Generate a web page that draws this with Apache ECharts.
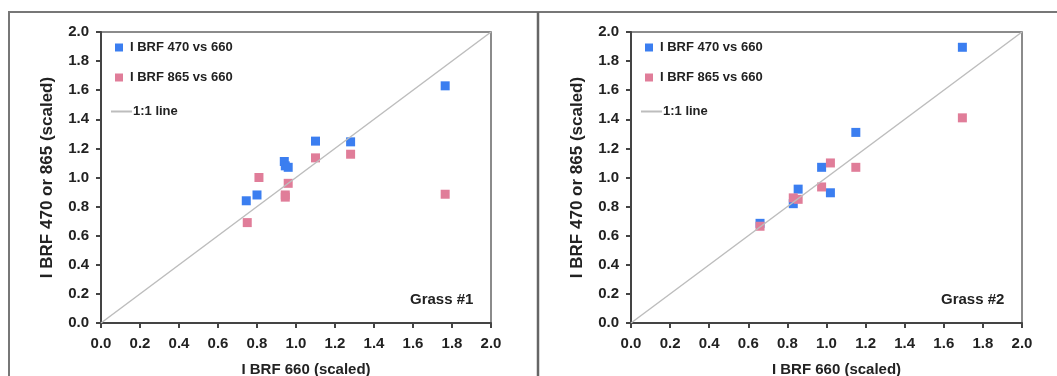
<!DOCTYPE html>
<html>
<head>
<meta charset="utf-8">
<script src="https://cdn.jsdelivr.net/npm/echarts@6/dist/echarts.min.js"></script>
<style>
  html, body { margin: 0; padding: 0; background: #fff; }
  #chart { width: 1057px; height: 376px; }
</style>
</head>
<body>
<div id="chart"></div>
<script>
// Grass #1: [I BRF 660, I BRF 470 or 865]
var grass1Blue = [[0.745, 0.84], [0.80, 0.88], [0.94, 1.11], [0.945, 1.08], [0.96, 1.07], [1.10, 1.25], [1.28, 1.245], [1.765, 1.63]];
var grass1Pink = [[0.75, 0.69], [0.81, 1.00], [0.945, 0.88], [0.945, 0.865], [0.96, 0.96], [1.10, 1.135], [1.28, 1.16], [1.765, 0.885]];
// Grass #2
var grass2Blue = [[0.66, 0.685], [0.83, 0.82], [0.855, 0.92], [0.975, 1.07], [1.02, 0.895], [1.15, 1.31], [1.695, 1.895]];
var grass2Pink = [[0.66, 0.665], [0.83, 0.86], [0.855, 0.85], [0.975, 0.935], [1.02, 1.10], [1.15, 1.07], [1.695, 1.41]];
var oneToOne = [[0, 0], [2, 2]];
var panelNames = ['Grass #1', 'Grass #2'];

var blueName = 'I BRF 470 vs 660';
var pinkName = 'I BRF 865 vs 660';
var lineName = '1:1 line';
var blue = '#3b7ef0';
var pink = '#e07d99';
var fontFam = 'Liberation Sans, Arial, sans-serif';

var chart = echarts.init(document.getElementById('chart'));

var grids = [
  { left: 101, top: 32, width: 390, height: 291 },
  { left: 631, top: 32, width: 391, height: 291 }
];

function valueAxis(i, name, isY) {
  return {
    type: 'value',
    gridIndex: i,
    min: 0,
    max: 2,
    interval: 0.2,
    name: name,
    nameLocation: 'middle',
    nameGap: isY ? 45 : 39,
    nameTextStyle: {
      fontFamily: fontFam, fontWeight: 'bold', fontSize: isY ? 17 : 15, color: '#222',
      padding: isY ? 0 : [0, 0, 0, 20]
    },
    axisLine: { show: true, onZero: false, lineStyle: { color: '#444', width: 2 } },
    axisTick: { show: true, inside: false, length: 5, lineStyle: { color: '#444', width: 2 } },
    axisLabel: {
      margin: isY ? 12 : 13,
      fontFamily: fontFam, fontWeight: 'bold', fontSize: 15, color: '#222',
      formatter: function (v) { return v.toFixed(1); }
    },
    splitLine: { show: false }
  };
}

var series = [];
var legends = [];
var titles = [];
[[grass1Blue, grass1Pink], [grass2Blue, grass2Pink]].forEach(function (pair, i) {
  series.push({
    name: lineName, type: 'line', xAxisIndex: i, yAxisIndex: i,
    data: oneToOne, symbol: 'none', silent: true,
    lineStyle: { color: '#bdbdbd', width: 1.5 }, itemStyle: { color: '#bdbdbd' }
  });
  series.push({
    name: blueName, type: 'scatter', xAxisIndex: i, yAxisIndex: i,
    data: pair[0], symbol: 'rect', symbolSize: 9, itemStyle: { color: blue, opacity: 1 }
  });
  series.push({
    name: pinkName, type: 'scatter', xAxisIndex: i, yAxisIndex: i,
    data: pair[1], symbol: 'rect', symbolSize: 9, itemStyle: { color: pink, opacity: 1 }
  });
  var gx = grids[i].left;
  legends.push({
    data: [blueName, pinkName],
    orient: 'vertical', left: gx + 9, top: 36, itemGap: 17,
    itemWidth: 8, itemHeight: 8, icon: 'rect',
    textStyle: { fontFamily: fontFam, fontWeight: 'bold', fontSize: 13, color: '#222', padding: [0, 0, 0, 2] },
    selectedMode: false
  });
  legends.push({
    data: [{ name: lineName, icon: 'rect' }],
    orient: 'vertical', left: gx + 5, top: 100,
    itemWidth: 21, itemHeight: 2,
    itemStyle: { color: '#bdbdbd' },
    textStyle: { fontFamily: fontFam, fontWeight: 'bold', fontSize: 13, color: '#222', padding: [0, 0, 0, -4] },
    selectedMode: false
  });
  titles.push({
    text: panelNames[i],
    left: gx + grids[i].width - 86, top: 287,
    textStyle: { fontFamily: fontFam, fontWeight: 'bold', fontSize: 15, color: '#222' }
  });
});

var option = {
  backgroundColor: '#fff',
  animation: false,
  title: titles,
  legend: legends,
  grid: grids.map(function (g) {
    return Object.assign({
      show: true, borderColor: '#666', borderWidth: 1.5, backgroundColor: 'transparent',
      containLabel: false, outerBoundsMode: 'none'
    }, g);
  }),
  xAxis: [valueAxis(0, 'I BRF 660 (scaled)', false), valueAxis(1, 'I BRF 660 (scaled)', false)],
  yAxis: [valueAxis(0, 'I BRF 470 or 865 (scaled)', true), valueAxis(1, 'I BRF 470 or 865 (scaled)', true)],
  series: series,
  graphic: [
    { type: 'polyline', silent: true, shape: { points: [[9, 380], [9, 12], [1060, 12]] }, style: { stroke: '#777', lineWidth: 2, fill: null } },
    { type: 'line', silent: true, shape: { x1: 538, y1: 12, x2: 538, y2: 380 }, style: { stroke: '#666', lineWidth: 2.5 } }
  ]
};

chart.setOption(option);
</script>
</body>
</html>
